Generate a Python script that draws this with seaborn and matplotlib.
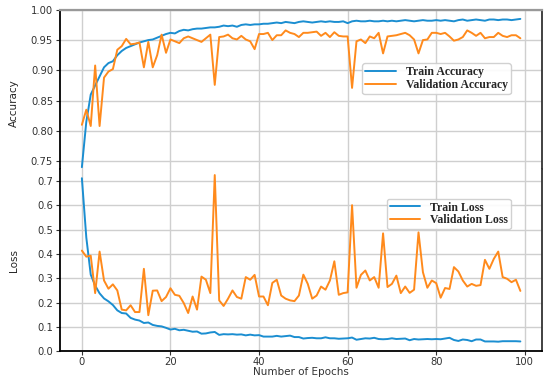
import numpy as np
import pandas as pd
import matplotlib
matplotlib.use('Agg')
import matplotlib.pyplot as plt
import seaborn as sns

epochs = np.arange(100)

train_acc = [0.740, 0.815, 0.860, 0.875, 0.890, 0.905, 0.912, 0.915, 0.925, 0.932,
             0.937, 0.940, 0.943, 0.946, 0.948, 0.950, 0.951, 0.954, 0.957, 0.960,
             0.962, 0.961, 0.965, 0.967, 0.966, 0.968, 0.969, 0.969, 0.970, 0.971,
             0.971, 0.972, 0.974, 0.973, 0.974, 0.972, 0.975, 0.976, 0.975, 0.976,
             0.976, 0.977, 0.977, 0.978, 0.979, 0.978, 0.980, 0.979, 0.978, 0.980,
             0.981, 0.980, 0.979, 0.980, 0.981, 0.980, 0.981, 0.980, 0.980, 0.981,
             0.978, 0.981, 0.982, 0.981, 0.981, 0.982, 0.981, 0.981, 0.982, 0.981,
             0.982, 0.981, 0.982, 0.983, 0.982, 0.981, 0.982, 0.983, 0.982, 0.982,
             0.983, 0.982, 0.983, 0.982, 0.981, 0.983, 0.984, 0.982, 0.983, 0.984,
             0.983, 0.982, 0.984, 0.984, 0.983, 0.984, 0.984, 0.983, 0.984, 0.985]

val_acc = [0.810, 0.835, 0.808, 0.908, 0.808, 0.888, 0.898, 0.902, 0.934, 0.940,
           0.952, 0.943, 0.944, 0.946, 0.905, 0.947, 0.905, 0.925, 0.959, 0.929,
           0.951, 0.948, 0.945, 0.953, 0.956, 0.953, 0.950, 0.947, 0.953, 0.959,
           0.876, 0.955, 0.956, 0.959, 0.953, 0.951, 0.957, 0.951, 0.948, 0.935,
           0.960, 0.960, 0.962, 0.950, 0.958, 0.958, 0.966, 0.962, 0.960, 0.955,
           0.962, 0.962, 0.963, 0.964, 0.957, 0.962, 0.955, 0.963, 0.957, 0.956,
           0.956, 0.871, 0.948, 0.951, 0.945, 0.956, 0.953, 0.962, 0.928, 0.956,
           0.957, 0.958, 0.960, 0.962, 0.958, 0.951, 0.928, 0.950, 0.951, 0.962,
           0.962, 0.960, 0.962, 0.956, 0.949, 0.951, 0.955, 0.966, 0.962, 0.957,
           0.962, 0.953, 0.955, 0.955, 0.962, 0.957, 0.955, 0.958, 0.958, 0.953]

train_loss = [0.712, 0.468, 0.315, 0.270, 0.238, 0.217, 0.205, 0.190, 0.168, 0.157,
              0.155, 0.137, 0.130, 0.126, 0.116, 0.118, 0.108, 0.104, 0.102, 0.096,
              0.089, 0.092, 0.086, 0.088, 0.084, 0.080, 0.081, 0.072, 0.073, 0.077,
              0.079, 0.067, 0.070, 0.069, 0.070, 0.068, 0.069, 0.065, 0.068, 0.065,
              0.066, 0.060, 0.060, 0.060, 0.063, 0.060, 0.062, 0.064, 0.058, 0.058,
              0.052, 0.054, 0.055, 0.053, 0.053, 0.057, 0.053, 0.053, 0.051, 0.052,
              0.053, 0.056, 0.047, 0.050, 0.053, 0.052, 0.055, 0.050, 0.049, 0.050,
              0.053, 0.050, 0.051, 0.052, 0.045, 0.050, 0.048, 0.049, 0.050, 0.049,
              0.050, 0.049, 0.052, 0.055, 0.046, 0.042, 0.048, 0.046, 0.041, 0.048,
              0.048, 0.040, 0.040, 0.040, 0.039, 0.041, 0.041, 0.041, 0.041, 0.040]

val_loss = [0.414, 0.389, 0.393, 0.239, 0.410, 0.291, 0.257, 0.275, 0.250, 0.171,
            0.168, 0.189, 0.161, 0.161, 0.339, 0.148, 0.249, 0.250, 0.206, 0.223,
            0.259, 0.232, 0.228, 0.198, 0.157, 0.225, 0.171, 0.307, 0.294, 0.239,
            0.725, 0.209, 0.186, 0.216, 0.250, 0.223, 0.216, 0.305, 0.294, 0.314,
            0.225, 0.225, 0.189, 0.281, 0.294, 0.229, 0.216, 0.209, 0.206, 0.229,
            0.315, 0.277, 0.216, 0.229, 0.266, 0.253, 0.291, 0.370, 0.232, 0.239,
            0.242, 0.601, 0.261, 0.314, 0.332, 0.291, 0.305, 0.261, 0.485, 0.264,
            0.277, 0.311, 0.239, 0.266, 0.240, 0.253, 0.489, 0.325, 0.261, 0.291,
            0.280, 0.220, 0.260, 0.256, 0.346, 0.328, 0.291, 0.266, 0.277, 0.269,
            0.272, 0.376, 0.339, 0.380, 0.410, 0.305, 0.298, 0.284, 0.294, 0.248]

blue = '#1b8ed1'
orange = '#ff8a1c'

sns.set_style('whitegrid', {'grid.color': '#cfcfcf', 'axes.edgecolor': 'black',
                            'xtick.bottom': True, 'ytick.left': True})

fig, (ax1, ax2) = plt.subplots(2, 1, figsize=(5.5, 3.78), dpi=100, sharex=True,
                               gridspec_kw={'height_ratios': [159, 182]})
fig.subplots_adjust(left=0.109, right=0.986, top=0.974, bottom=0.071, hspace=0)

sns.lineplot(x=epochs, y=train_acc, ax=ax1, color=blue, lw=1.4, label='Train Accuracy')
sns.lineplot(x=epochs, y=val_acc, ax=ax1, color=orange, lw=1.4, label='Validation Accuracy')
sns.lineplot(x=epochs, y=train_loss, ax=ax2, color=blue, lw=1.4, label='Train Loss')
sns.lineplot(x=epochs, y=val_loss, ax=ax2, color=orange, lw=1.4, label='Validation Loss')

ax1.set_ylim(0.737, 1.0)
ax1.set_yticks([0.75, 0.80, 0.85, 0.90, 0.95, 1.00])
ax1.set_yticklabels(['0.75', '0.80', '0.85', '0.90', '0.95', '1.00'])
ax2.set_ylim(0, 0.75)
ax2.set_yticks(np.arange(0, 0.8, 0.1))
ax2.set_yticklabels(['0.0', '0.1', '0.2', '0.3', '0.4', '0.5', '0.6', '0.7'])
ax2.set_xticks([0, 20, 40, 60, 80, 100])

for ax in (ax1, ax2):
    ax.tick_params(labelsize=7.2, length=3, width=0.8, colors='#333333', pad=2)
    ax.grid(True, lw=1.0)
    ax.spines['left'].set_linewidth(1.3)
    ax.spines['right'].set_linewidth(1.3)
    ax.spines['right'].set_color('#333333')
ax2.tick_params(axis='x', pad=1)
ax1.tick_params(axis='x', bottom=False, labelbottom=False)
ax1.spines['bottom'].set_visible(False)
ax2.spines['top'].set_visible(False)
ax1.spines['top'].set_color('#999999')
ax1.spines['top'].set_linewidth(1.6)
ax2.spines['bottom'].set_linewidth(1.3)

ax1.set_ylabel('Accuracy', fontsize=7.5, family='Liberation Sans Narrow')
ax2.set_ylabel('Loss', fontsize=7.5, family='Liberation Sans Narrow')
ax2.set_xlabel('Number of Epochs', fontsize=7.5, labelpad=0, color='#333333')
ax1.yaxis.set_label_coords(-0.085, 0.415)
ax2.yaxis.set_label_coords(-0.085, 0.5)

legend_font = {'family': 'Liberation Serif', 'size': 8.5, 'weight': 'bold'}
ax1.legend(loc='upper left', bbox_to_anchor=(0.615, 0.70), prop=legend_font,
           frameon=True, handlelength=2.6, labelspacing=0.05, borderpad=0.25,
           fancybox=True, framealpha=0.9)
ax2.legend(loc='upper left', bbox_to_anchor=(0.665, 0.87), prop=legend_font,
           frameon=True, handlelength=2.6, labelspacing=0.05, borderpad=0.25,
           fancybox=True, framealpha=0.9)

fig.savefig('out.png', dpi=100)
